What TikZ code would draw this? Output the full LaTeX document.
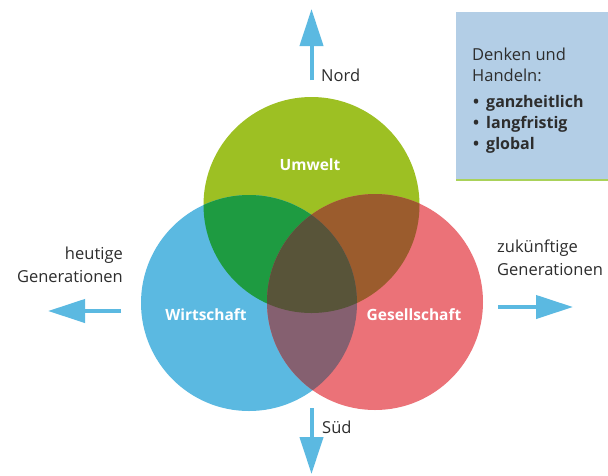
\documentclass[tikz,border=0pt]{standalone}
\usepackage{fontspec}
\setmainfont{Open Sans}
\usetikzlibrary{arrows.meta}
\definecolor{cgreen}{RGB}{157,192,35}
\definecolor{cblue}{RGB}{91,185,225}
\definecolor{cred}{RGB}{235,114,120}
\definecolor{cgb}{RGB}{30,155,65}
\definecolor{cgr}{RGB}{155,92,45}
\definecolor{cbr}{RGB}{133,96,112}
\definecolor{cmid}{RGB}{88,84,57}
\definecolor{carrow}{RGB}{91,185,225}
\definecolor{cbox}{RGB}{179,206,230}
\definecolor{ctext}{RGB}{45,45,45}
\definecolor{cline}{RGB}{170,210,90}
\tikzset{
  arr/.style={draw=carrow, line width=4pt, -{Triangle[length=37pt,width=23pt]}},
  lbl/.style={text=ctext, font=\fontsize{16.5}{18}\selectfont, inner sep=0pt},
  blbl/.style={text=ctext, font=\bfseries\fontsize{16}{18}\selectfont, inner sep=0pt},
  clbl/.style={text=white, font=\bfseries\fontsize{15.5}{17}\selectfont, inner sep=0pt},
}
\begin{document}
\begin{tikzpicture}[x=1pt,y=-1pt]
\useasboundingbox (0,0) rectangle (608,475);
\fill[white] (0,0) rectangle (608,475);
% box
\fill[cbox] (456,12) rectangle (608,180);
\draw[cline, line width=1.2pt] (456,180) -- (608,180);
\node[lbl, anchor=west] (t1) at (472,54) {Denken und};
\node[lbl, anchor=west] (t2) at (472,75) {Handeln:};
\node[blbl, anchor=west] (b1) at (473,103) {\textbullet\hspace{7pt}ganzheitlich};
\node[blbl, anchor=west] (b2) at (473,124) {\textbullet\hspace{7pt}langfristig};
\node[blbl, anchor=west] (b3) at (473,145) {\textbullet\hspace{7pt}global};
% circles
\coordinate (cu) at (311.5,205);
\coordinate (cw) at (249,303);
\coordinate (cg) at (375,302);
\fill[cgreen] (cu) circle (108);
\fill[cblue] (cw) circle (108);
\fill[cred] (cg) circle (108);
\begin{scope}
  \clip (cu) circle (108);
  \fill[cgb] (cw) circle (108);
  \fill[cgr] (cg) circle (108);
\end{scope}
\begin{scope}
  \clip (cw) circle (108);
  \fill[cbr] (cg) circle (108);
  \clip (cg) circle (108);
  \fill[cmid] (cu) circle (108);
\end{scope}
\node[clbl] (u) at (310,165) {Umwelt};
\node[clbl] (w) at (206,315) {Wirtschaft};
\node[clbl] (g) at (414,315) {Gesellschaft};
% arrows
\coordinate (n0) at (311.5,80);
\coordinate (n1) at (311.5,9);
\coordinate (s0) at (311.5,408);
\coordinate (s1) at (311.5,474);
\coordinate (l0) at (121,311);
\coordinate (l1) at (48,311);
\coordinate (r0) at (498,307);
\coordinate (r1) at (573,307);
\draw[arr] (n0) -- (n1);
\draw[arr] (s0) -- (s1);
\draw[arr] (l0) -- (l1);
\draw[arr] (r0) -- (r1);
\node[lbl, anchor=west] (nord) at (321,75) {Nord};
\node[lbl, anchor=west] (sued) at (322,427) {Süd};
\node[lbl, anchor=east] (h1) at (123,255) {heutige};
\node[lbl, anchor=east] (h2) at (123,277) {Generationen};
\node[lbl, anchor=west] (z1) at (497,248) {zukünftige};
\node[lbl, anchor=west] (z2) at (497,270) {Generationen};
\end{tikzpicture}
\end{document}
